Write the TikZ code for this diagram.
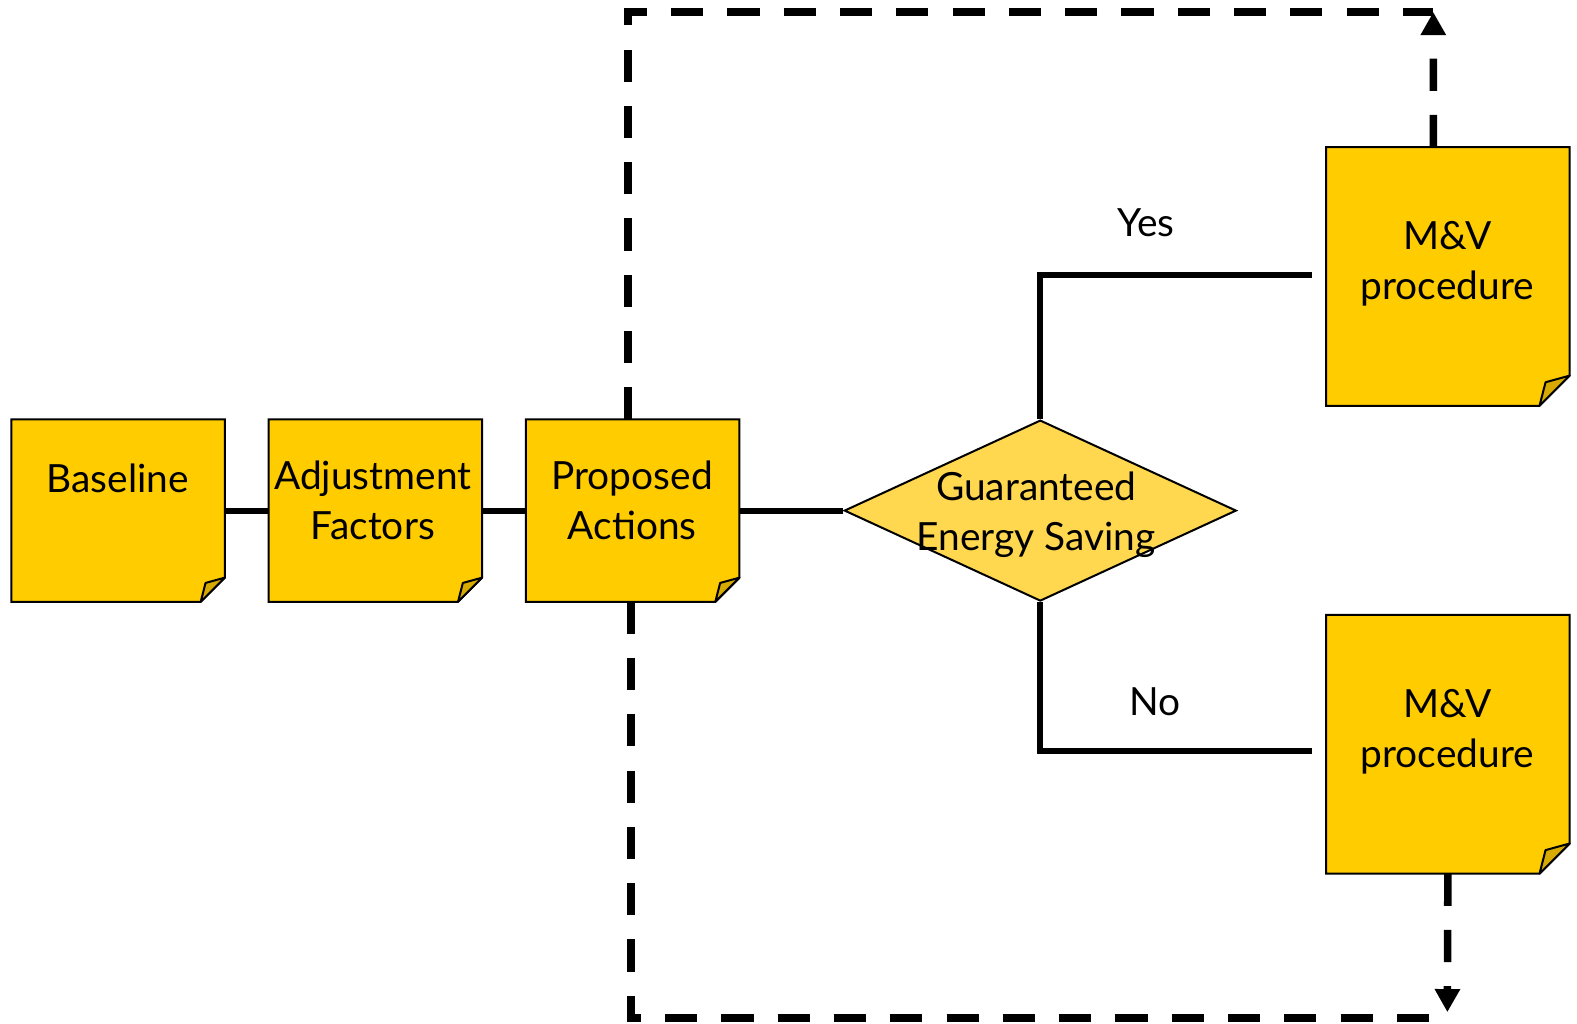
\documentclass[tikz,border=0pt]{standalone}
\usepackage{fontspec}
\setmainfont{Lato}
\usetikzlibrary{shapes.geometric,arrows.meta}

\definecolor{notefill}{HTML}{FFCC00}
\definecolor{flapfill}{HTML}{D6AA00}
\definecolor{decfill}{HTML}{FFD84F}

\tikzset{
  note/.style={minimum width=21.1mm, minimum height=18mm, inner sep=0pt},
  bignote/.style={minimum width=24.1mm, minimum height=25.6mm, inner sep=0pt},
  words/.style={align=center, font=\fontsize{11}{14.2}\selectfont, inner sep=0pt},
  link/.style={line width=0.6mm},
  loopline/.style={line width=0.75mm, dash pattern=on 3.2mm off 2.4mm},
  tip/.style={-{Triangle[width=2.4mm,length=2.3mm]}}
}

\begin{document}
\begin{tikzpicture}[x=0.1mm, y=-0.1mm]
\useasboundingbox (0,0) rectangle (1569,1018);

\node [note] (b1) at (117.5,508) {};
\node [note] (b2) at (373.5,508) {};
\node [note] (b3) at (629.5,508) {};
\node [bignote] (m1) at (1440.5,275) {};
\node [bignote] (m2) at (1440.5,740.5) {};
\node [shape=diamond, draw=black, line width=0.2mm, fill=decfill, minimum width=39mm, minimum height=18mm, inner sep=0pt] (d1) at (1035,508) {};

% sticky notes with folded corner
\foreach \v/\c in {b1/2.4mm, b2/2.4mm, b3/2.4mm, m1/3mm, m2/3mm} {
  \filldraw [fill=notefill, line width=0.2mm] (\v.north west) -- (\v.north east) -- ([yshift=\c]\v.south east) -- ([xshift=-\c]\v.south east) -- (\v.south west) -- cycle;
  \filldraw [fill=flapfill, line width=0.2mm, line join=round] ([yshift=\c]\v.south east) -- ([xshift=-0.8*\c, yshift=0.78*\c]\v.south east) -- ([xshift=-\c]\v.south east) -- cycle;
}

\node [words] at (117,476) {Baseline};
\node [words] at (371,498) {Adjustment\\Factors};
\node [words] at (629,498) {Proposed\\Actions};
\node [words] at (1031,512) {Guaranteed\\Energy Saving};
\node [words] at (1440,262) {M\&V\\procedure};
\node [words] at (1440,728) {M\&V\\procedure};
\node [words] (yes) at (1140,222) {Yes};
\node [words] (no) at (1149,698) {No};

\coordinate (y1) at (1305,274);
\coordinate (n1) at (1305,747);
\draw [link] (b1) -- (b2);
\draw [link] (b2) -- (b3);
\draw [link] (b3) -- (d1);
\draw [link] (d1.north) |- (y1);
\draw [link] (d1.south) |- (n1);

\coordinate (c1) at (1426,12);
\coordinate (c2) at (1440,1013);
\draw [loopline] ([xshift=-0.45mm]b3.north) |- (c1);
\draw [loopline, tip] ([xshift=-1.45mm]m1.north) -- (c1);
\draw [loopline] ([xshift=-0.15mm]b3.south) |- (c2);
\draw [loopline, tip, shorten >=0.6mm] (m2.south) -- (c2);
\end{tikzpicture}
\end{document}
